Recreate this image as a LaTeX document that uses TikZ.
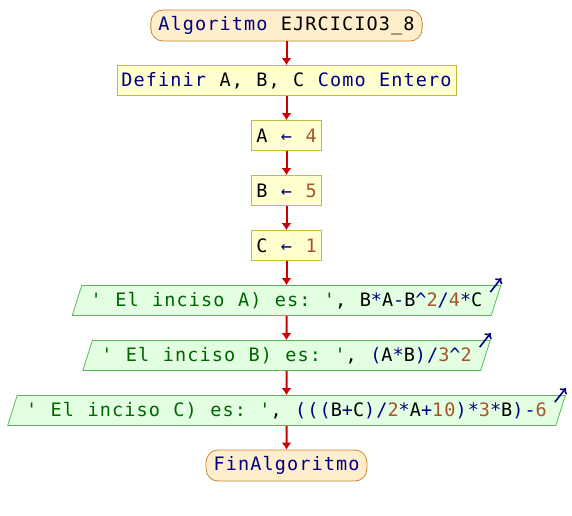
\documentclass[tikz,border=0pt]{standalone}
\usepackage{fontspec}
\setmonofont{DejaVu Sans Mono}[LetterSpace=6,WordSpace=1.1]
\usetikzlibrary{calc,shapes.geometric,arrows.meta}

\definecolor{kwcol}{RGB}{0,0,128}
\definecolor{numcol}{RGB}{165,85,45}
\definecolor{strcol}{RGB}{0,100,0}
\definecolor{termfondo}{RGB}{255,238,204}
\definecolor{termborde}{RGB}{200,135,50}
\definecolor{procfondo}{RGB}{255,255,208}
\definecolor{procborde}{RGB}{190,190,60}
\definecolor{salfondo}{RGB}{226,255,226}
\definecolor{salborde}{RGB}{90,185,90}
\definecolor{flechacol}{RGB}{204,0,0}

\newcommand{\pskw}[1]{\textcolor{kwcol}{#1}}
\newcommand{\psnum}[1]{\textcolor{numcol}{#1}}
\newcommand{\psstr}[1]{\textcolor{strcol}{#1}}

\begin{document}
\begin{tikzpicture}[
  x=1pt,
  y=-1pt,
  node distance=55pt
]

  \tikzstyle{termnode}=[draw=termborde,fill=termfondo,rectangle,rounded corners=12pt,line width=0.8pt,minimum height=31pt,inner xsep=7.5pt,font=\ttfamily\fontsize{18.5}{20}\selectfont]
  \tikzstyle{procnode}=[draw=procborde,fill=procfondo,rectangle,line width=0.8pt,minimum height=30pt,inner xsep=4.5pt,font=\ttfamily\fontsize{18.5}{20}\selectfont]
  \tikzstyle{salnode}=[draw=salborde,fill=salfondo,trapezium,trapezium left angle=68,trapezium right angle=112,trapezium stretches body,line width=0.8pt,minimum height=30pt,inner xsep=9pt,font=\ttfamily\fontsize{18.5}{20}\selectfont]

  \tikzstyle{pointer}=[draw=flechacol,line width=2pt,-{Latex[length=7pt,width=10pt]}]
  \tikzstyle{salflecha}=[draw=kwcol,line width=1.6pt,-{To[length=5pt,width=9pt]}]

  \useasboundingbox (0,0) rectangle (572,515);

  % nodes
  \node[termnode] (inicio) at (286.5,25.5) {\pskw{Algoritmo} EJRCICIO3\_8};
  \node[procnode] (definir) [below of=inicio] {\pskw{Definir} A, B, C \pskw{Como} \pskw{Entero}};
  \node[procnode] (asigA) [below of=definir] {A \pskw{←} \psnum{4}};
  \node[procnode] (asigB) [below of=asigA] {B \pskw{←} \psnum{5}};
  \node[procnode] (asigC) [below of=asigB] {C \pskw{←} \psnum{1}};

  \node[salnode] (salA) [below of=asigC] {\psstr{' El inciso A) es: '}, B\pskw{*}A\pskw{-}B\pskw{\textasciicircum}\psnum{2}\pskw{/}\psnum{4}\pskw{*}C};
  \node[salnode] (salB) [below of=salA] {\psstr{' El inciso B) es: '}, \pskw{(}A\pskw{*}B\pskw{)/}\psnum{3}\pskw{\textasciicircum}\psnum{2}};
  \node[salnode] (salC) [below of=salB] {\psstr{' El inciso C) es: '}, \pskw{(((}B\pskw{+}C\pskw{)/}\psnum{2}\pskw{*}A\pskw{+}\psnum{10}\pskw{)*}\psnum{3}\pskw{*}B\pskw{)-}\psnum{6}};

  \node[termnode] (fin) [below of=salC] {\pskw{FinAlgoritmo}};

  % pointers
  \draw[pointer] (inicio)  -- (definir);
  \draw[pointer] (definir) -- (asigA);
  \draw[pointer] (asigA)   -- (asigB);
  \draw[pointer] (asigB)   -- (asigC);
  \draw[pointer] (asigC)   -- (salA);
  \draw[pointer] (salA)    -- (salB);
  \draw[pointer] (salB)    -- (salC);
  \draw[pointer] (salC)    -- (fin);

  % output marks
  \draw[salflecha] ($(salA.top right corner)+(-11,7)$) -- ($(salA.top right corner)+(0,-7)$);
  \draw[salflecha] ($(salB.top right corner)+(-11,7)$) -- ($(salB.top right corner)+(0,-7)$);
  \draw[salflecha] ($(salC.top right corner)+(-11,7)$) -- ($(salC.top right corner)+(0,-7)$);

\end{tikzpicture}
\end{document}
